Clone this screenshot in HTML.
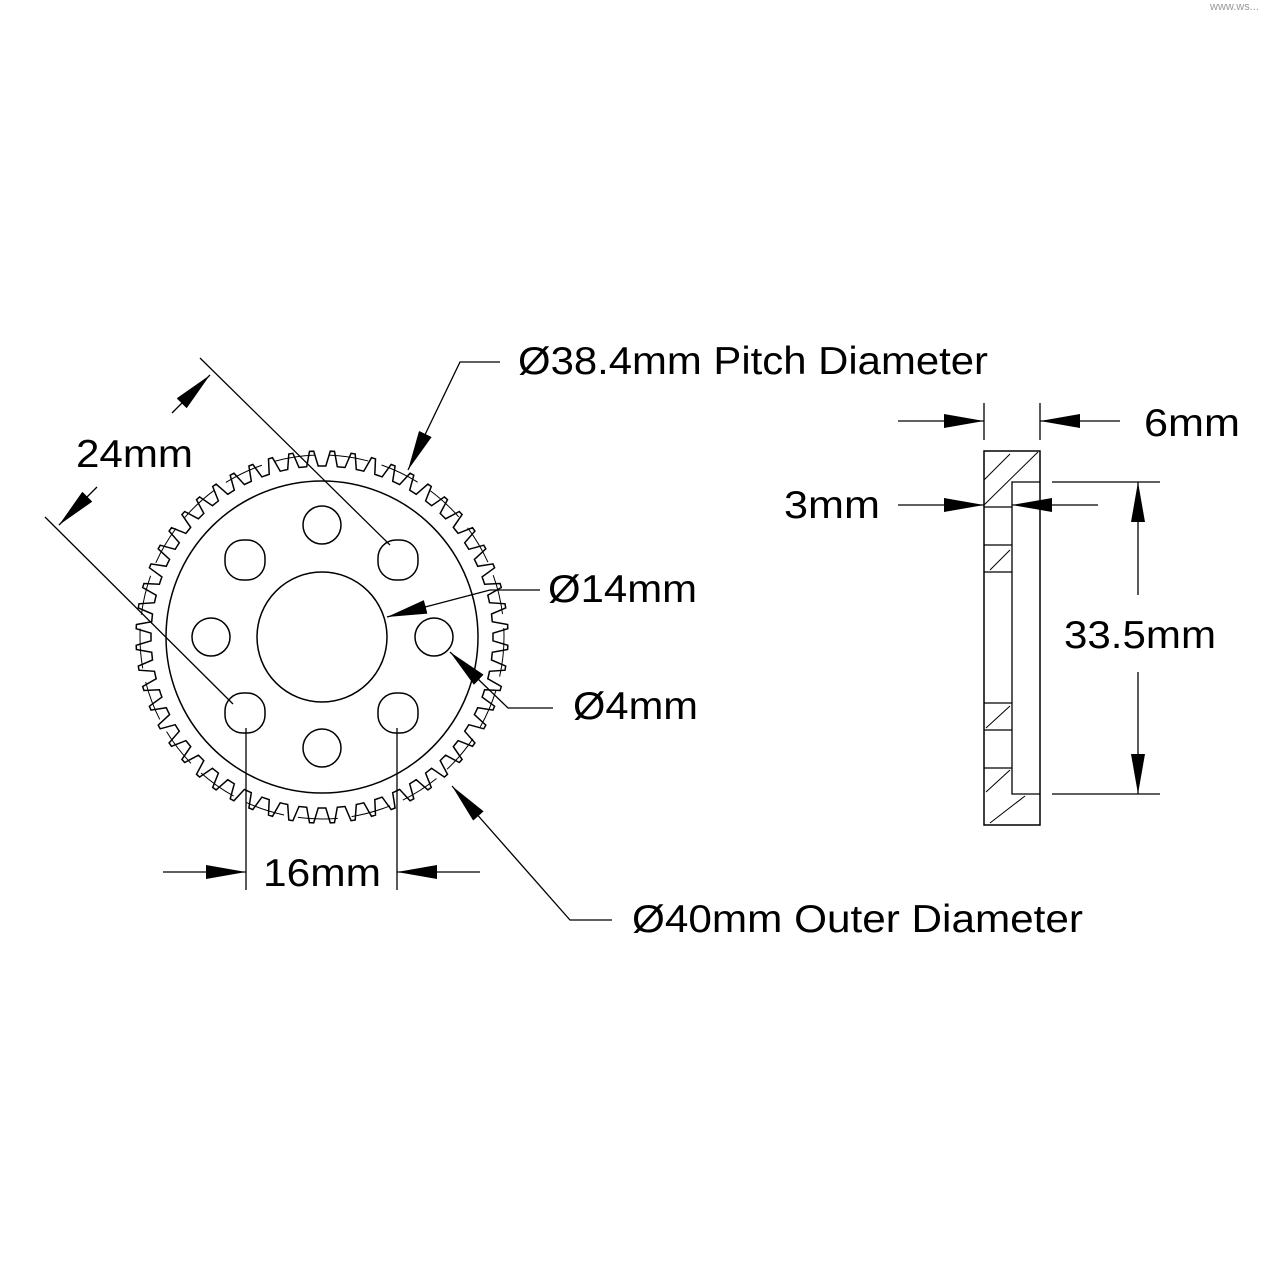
<!DOCTYPE html>
<html><head><meta charset="utf-8"><style>
html,body{margin:0;padding:0;background:#fff;}
svg{display:block;}
text{font-family:"Liberation Sans",sans-serif;font-size:39px;fill:#000;}
</style></head><body>
<svg id="s" width="1280" height="1280" viewBox="0 0 1280 1280" xmlns="http://www.w3.org/2000/svg">
<defs>
<marker id="a" viewBox="0 0 40 14" refX="40" refY="7" markerWidth="40" markerHeight="14" markerUnits="userSpaceOnUse" orient="auto"><path d="M0,0 L40,7 L0,14z" fill="#000"/></marker>
</defs>
<text x="1210" y="10" style="font-size:11px;fill:#999">www.ws...</text>
<g fill="none" stroke="#000" stroke-width="1.5">
<path id="gear" stroke-width="1.5"/>
<circle cx="322" cy="637" r="182" stroke-width="1" stroke-dasharray="40 14"/>
<circle cx="322" cy="637" r="156"/>
<circle cx="322" cy="637" r="65"/>
<circle cx="322" cy="525" r="19"/>
<circle cx="322" cy="748" r="19"/>
<circle cx="211" cy="637" r="19"/>
<circle cx="434" cy="637" r="19"/>
<rect x="225" y="540" width="40" height="40" rx="18"/>
<rect x="378" y="540" width="40" height="40" rx="18"/>
<rect x="225" y="693" width="40" height="40" rx="18"/>
<rect x="378" y="693" width="40" height="40" rx="18"/>
</g>
<g fill="none" stroke="#000" stroke-width="1.3">
<line x1="200" y1="358" x2="390" y2="545"/>
<line x1="45" y1="517" x2="233" y2="704"/>
<line x1="172" y1="413" x2="210" y2="375" marker-end="url(#a)"/>
<line x1="97" y1="487" x2="59" y2="525" marker-end="url(#a)"/>
<polyline points="500,362 460,362 408,470" marker-end="url(#a)"/>
<polyline points="540,590 490,590 387,617" marker-end="url(#a)"/>
<polyline points="553,708 508,708 450,652" marker-end="url(#a)"/>
<polyline points="612,920 570,920 452,786" marker-end="url(#a)"/>
<line x1="246" y1="728" x2="246" y2="890"/>
<line x1="397" y1="728" x2="397" y2="890"/>
<line x1="163" y1="872" x2="246" y2="872" marker-end="url(#a)"/>
<line x1="480" y1="872" x2="397" y2="872" marker-end="url(#a)"/>
<rect x="984" y="451" width="56" height="374" stroke-width="1.5"/>
<polyline points="1040,482 1012,482 1012,794 1040,794"/>
<line x1="984" y1="507" x2="1012" y2="507"/>
<line x1="984" y1="545" x2="1012" y2="545"/>
<line x1="984" y1="572" x2="1012" y2="572"/>
<line x1="984" y1="703" x2="1012" y2="703"/>
<line x1="984" y1="730" x2="1012" y2="730"/>
<line x1="984" y1="768" x2="1012" y2="768"/>
<line x1="984" y1="480" x2="1010" y2="454" stroke-width="1"/>
<line x1="984" y1="505" x2="1038" y2="452" stroke-width="1"/>
<line x1="990" y1="570" x2="1010" y2="550" stroke-width="1"/>
<line x1="986" y1="728" x2="1010" y2="706" stroke-width="1"/>
<line x1="986" y1="792" x2="1010" y2="770" stroke-width="1"/>
<line x1="990" y1="823" x2="1025" y2="796" stroke-width="1"/>
<line x1="984" y1="403" x2="984" y2="440"/>
<line x1="1040" y1="403" x2="1040" y2="440"/>
<line x1="898" y1="421" x2="984" y2="421" marker-end="url(#a)"/>
<line x1="1120" y1="421" x2="1040" y2="421" marker-end="url(#a)"/>
<line x1="898" y1="505" x2="984" y2="505" marker-end="url(#a)"/>
<line x1="1098" y1="505" x2="1012" y2="505" marker-end="url(#a)"/>
<line x1="1052" y1="482" x2="1160" y2="482"/>
<line x1="1052" y1="794" x2="1160" y2="794"/>
<line x1="1138" y1="595" x2="1138" y2="482" marker-end="url(#a)"/>
<line x1="1138" y1="672" x2="1138" y2="794" marker-end="url(#a)"/>
</g>
<text x="518" y="374" textLength="470" lengthAdjust="spacingAndGlyphs">Ø38.4mm Pitch Diameter</text>
<text x="76" y="467" textLength="117" lengthAdjust="spacingAndGlyphs">24mm</text>
<text x="548" y="602" textLength="149" lengthAdjust="spacingAndGlyphs">Ø14mm</text>
<text x="573" y="719" textLength="125" lengthAdjust="spacingAndGlyphs">Ø4mm</text>
<text x="263" y="886" textLength="118" lengthAdjust="spacingAndGlyphs">16mm</text>
<text x="632" y="932" textLength="451" lengthAdjust="spacingAndGlyphs">Ø40mm Outer Diameter</text>
<text x="1144" y="436" textLength="96" lengthAdjust="spacingAndGlyphs">6mm</text>
<text x="784" y="518" textLength="96" lengthAdjust="spacingAndGlyphs">3mm</text>
<text x="1064" y="648" textLength="152" lengthAdjust="spacingAndGlyphs">33.5mm</text>
</svg>
<script>
(function(){
var cx=322,cy=637,N=56,rt=186,rr=171,d="";
for(var i=0;i<N;i++){
 var a=i*2*Math.PI/N, s=2*Math.PI/N;
 var pts=[[rr,a],[rr,a+s*0.2],[rt,a+s*0.4],[rt,a+s*0.6],[rr,a+s*0.8]];
 pts.forEach(function(p,j){
  var x=(cx+p[0]*Math.cos(p[1])).toFixed(1),y=(cy+p[0]*Math.sin(p[1])).toFixed(1);
  d+=(i==0&&j==0?"M":"L")+x+","+y;
 });
}
d+="Z";
document.getElementById("gear").setAttribute("d",d);
})();
</script>
</body></html>
